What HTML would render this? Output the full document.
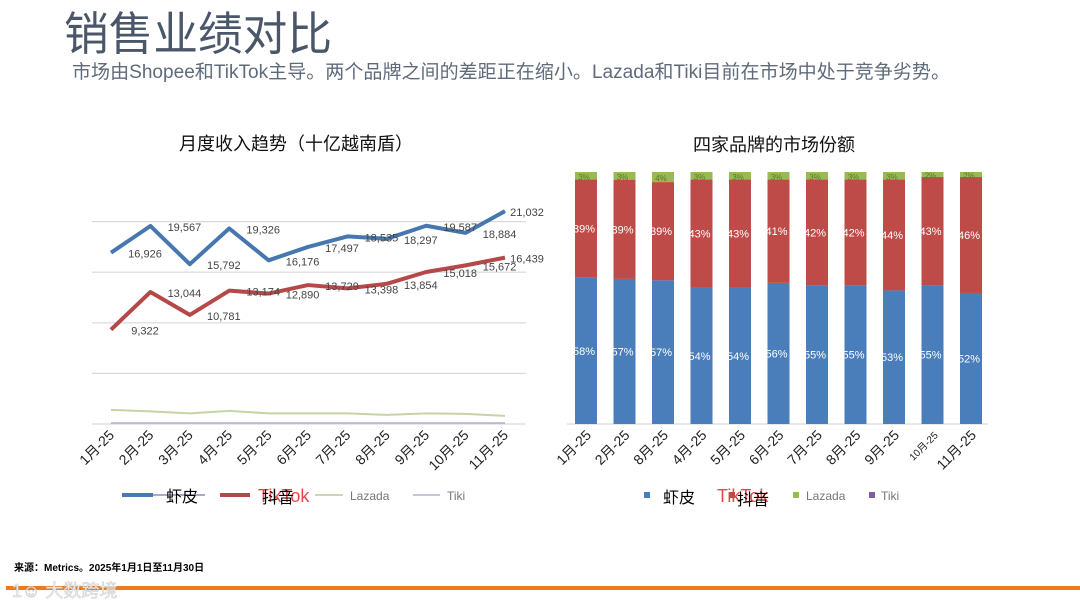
<!DOCTYPE html>
<html><head><meta charset="utf-8"><style>
html,body{margin:0;padding:0;background:#fff;}
svg{display:block;font-family:"Liberation Sans","Noto Sans CJK SC",sans-serif;}
</style></head><body>
<svg id="s" width="1080" height="608" viewBox="0 0 1080 608">
<text x="64" y="50" font-size="46" fill="#4a576a" textLength="268" lengthAdjust="spacingAndGlyphs">销售业绩对比</text>
<text x="72" y="78" font-size="19" fill="#5f6b7a" textLength="878" lengthAdjust="spacingAndGlyphs">市场由Shopee和TikTok主导。两个品牌之间的差距正在缩小。Lazada和Tiki目前在市场中处于竞争劣势。</text>
<text x="296" y="150" font-size="18" fill="#111" text-anchor="middle">月度收入趋势（十亿越南盾）</text>
<text x="774" y="151" font-size="18" fill="#111" text-anchor="middle">四家品牌的市场份额</text>
<g id="line"></g>
<g id="bar"></g>
<g>
<line x1="122" y1="495" x2="153" y2="495" stroke="#4a78b0" stroke-width="4"/>
<line x1="153" y1="495" x2="205" y2="495" stroke="#8a8fb5" stroke-width="1.5"/>
<text x="166" y="502" font-size="16" fill="#000">虾皮</text>
<line x1="220" y1="495" x2="250" y2="495" stroke="#b04a4a" stroke-width="4"/>
<text x="258" y="502" font-size="18" fill="#e8474a">TikTok</text>
<text x="262" y="503" font-size="16" fill="#000">抖音</text>
<line x1="315" y1="495" x2="343" y2="495" stroke="#b6c99a" stroke-width="1.5"/>
<text x="350" y="500" font-size="12" fill="#777">Lazada</text>
<line x1="413" y1="495" x2="440" y2="495" stroke="#b3b0cc" stroke-width="1.5"/>
<text x="447" y="500" font-size="12" fill="#777">Tiki</text>
</g>
<g>
<rect x="644" y="492" width="6" height="6" fill="#4a7ebb"/>
<text x="663" y="503" font-size="16" fill="#000">虾皮</text>
<text x="717" y="502" font-size="18" fill="#e8474a">TikTok</text>
<rect x="729" y="492" width="6" height="6" fill="#be4b48"/>
<text x="737" y="505" font-size="16" fill="#000">抖音</text>
<rect x="793" y="492" width="6" height="6" fill="#98b954"/>
<text x="806" y="500" font-size="12" fill="#777">Lazada</text>
<rect x="869" y="492" width="6" height="6" fill="#7d60a0"/>
<text x="881" y="500" font-size="12" fill="#777">Tiki</text>
</g>
<text x="14" y="571" font-size="10" font-weight="bold" fill="#000">来源：Metrics。2025年1月1日至11月30日</text>
<rect x="6" y="586" width="1074" height="4" fill="#ee7a1e"/>
<text x="12" y="597" font-size="18" fill="#eee" stroke="#ccc" stroke-width="0.5">1☺ 大数跨境</text>
</svg>
<script>
const NS='http://www.w3.org/2000/svg';
const months=['1月-25','2月-25','3月-25','4月-25','5月-25','6月-25','7月-25','8月-25','9月-25','10月-25','11月-25'];
const shopeeRev=[16926,19567,15792,19326,16176,17497,18535,18297,19587,18884,21032];
const tiktokRev=[9322,13044,10781,13174,12890,13729,13398,13854,15018,15672,16439];
const lazadaRev=[1400,1250,1050,1300,1050,1050,1050,900,1050,1000,800];
const tikiRev=[100,100,100,100,100,100,100,100,100,100,100];
const gridTicks=[0,5000,10000,15000,20000];
const barMonths=['1月-25','2月-25','8月-25','4月-25','5月-25','6月-25','7月-25','8月-25','9月-25','10月-25','11月-25'];
const shopeeShare=[58,57,57,54,54,56,55,55,53,55,52];
const tiktokShare=[39,39,39,43,43,41,42,42,44,43,46];
const lazadaShare=[3,3,4,3,3,3,3,3,3,2,2];
const tikiShare=[0,0,0,0,0,0,0,0,0,0,0];

function mk(tag,attrs,parent){const e=document.createElementNS(NS,tag);for(const k in attrs)e.setAttribute(k,attrs[k]);parent.appendChild(e);return e;}

const L=document.getElementById('line');
const lx=i=>111+i*39.4;
const ly=v=>424-v*0.01012;
gridTicks.forEach(t=>{
  const g=mk('line',{x1:92,x2:526,y1:ly(t),y2:ly(t),stroke:'#d9d9d9','stroke-width':1.2},L);
  
  
});
months.forEach((m,i)=>{
  const t=mk('text',{x:lx(i)+4,y:436,'font-size':14,fill:'#222','text-anchor':'end',transform:`rotate(-45 ${lx(i)+4} 436)`},L);
  t.textContent=m;
  
  
});
function series(vals,color,w,name){
  const p=mk('polyline',{points:vals.map((v,i)=>lx(i)+','+ly(v)).join(' '),fill:'none',stroke:color,'stroke-width':w,'stroke-linejoin':'round'},L);
  
  
}
series(tikiRev,'#b3b0cc',1.5,'tiki-line');
series(lazadaRev,'#c3d5a5',2,'lazada-line');
series(tiktokRev,'#b5494a',4,'tiktok-line');
series(shopeeRev,'#4777af',4,'shopee-line');
function labels(vals,name){
  vals.forEach((v,i)=>{
    const t=mk('text',{x:lx(i)+(i===10?22:34),y:ly(v)+5,'font-size':11,fill:'#444','text-anchor':'middle'},L);
    t.textContent=v.toLocaleString('en-US');
    
    
  });
}
labels(shopeeRev,'shopee-value-label');
labels(tiktokRev,'tiktok-value-label');

const B=document.getElementById('bar');
const bx=i=>575+i*38.5;
const bw=22, base=424, H=252;
const ax=mk('line',{x1:567,x2:988,y1:base,y2:base,stroke:'#d9d9d9','stroke-width':1.2},B);


barMonths.forEach((m,i)=>{
  const tot=shopeeShare[i]+tiktokShare[i]+lazadaShare[i]+tikiShare[i];
  let y=base;
  [[shopeeShare,'#4a7ebb','shopee'],[tiktokShare,'#be4b48','tiktok'],[lazadaShare,'#98b954','lazada'],[tikiShare,'#7d60a0','tiki']].forEach(([arr,c,n])=>{
    const h=arr[i]/tot*H;
    y-=h;
    const r=mk('rect',{x:bx(i),y:y,width:bw,height:h,fill:c},B);
    
    
    if(arr[i]>0){
      const t=mk('text',{x:bx(i)+bw/2-2,y:y+h/2+4,'font-size':n==='lazada'?8:11,fill:n==='lazada'?'#5a7a2a':'#fff','text-anchor':'middle'},B);
      t.textContent=arr[i]+'%';
      
      
    }
  });
  const t=mk('text',{x:bx(i)+bw/2+6,y:436,'font-size':i===9?10:14,fill:'#222','text-anchor':'end',transform:`rotate(-45 ${bx(i)+bw/2+6} 436)`},B);
  t.textContent=m;
  
  
});
</script>
</body></html>
